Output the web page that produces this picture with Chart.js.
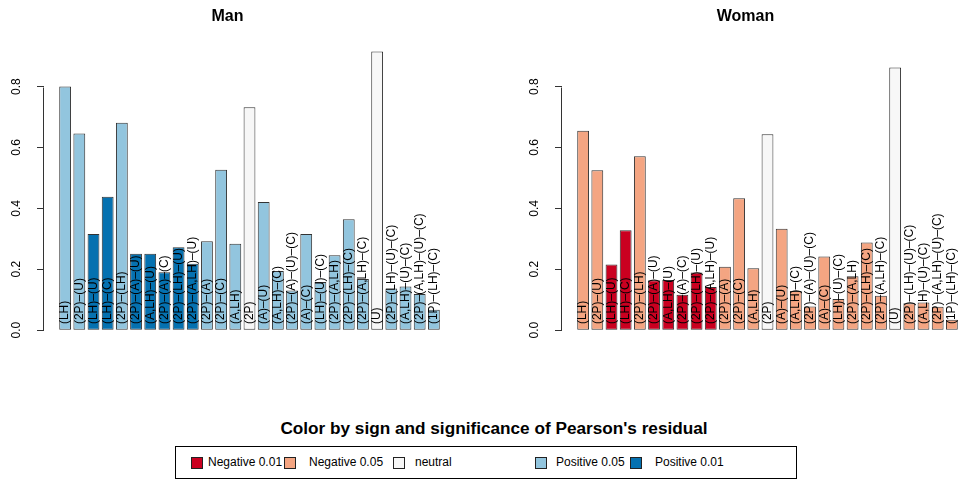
<!DOCTYPE html>
<html><head><meta charset="utf-8">
<script src="https://cdn.jsdelivr.net/npm/chart.js@4/dist/chart.umd.min.js"></script>
<style>
html,body{margin:0;padding:0;background:#fff;width:963px;height:482px;overflow:hidden;position:relative;font-family:"Liberation Sans",Arial,sans-serif;}
.panel{position:absolute;top:0;width:499px;height:360px;}
#legendTitle{position:absolute;left:0;width:988px;top:418px;text-align:center;font-weight:bold;font-size:17.2px;color:#000;}
#legendBox{position:absolute;left:175px;top:446px;width:620px;height:31px;border:1px solid #000;}
.sw{position:absolute;width:10px;height:10px;border:1px solid #222;top:10px;}
.lt{position:absolute;top:0;height:31px;line-height:31px;font-size:12px;color:#000;white-space:nowrap;}
</style></head>
<body>
<div class="panel" style="left:0"><canvas id="man"></canvas></div>
<div class="panel" style="left:518px"><canvas id="woman"></canvas></div>
<div id="legendTitle">Color by sign and significance of Pearson's residual</div>
<div id="legendBox"></div>
<script>
const categories = ["(LH)","(2P)–(U)","(LH)–(U)","(LH)–(C)","(2P)–(LH)","(2P)–(A)–(U)","(A,LH)–(U)","(2P)–(A)–(C)","(2P)–(LH)–(U)","(2P)–(A,LH)–(U)","(2P)–(A)","(2P)–(C)","(A,LH)","(2P)","(A)–(U)","(A,LH)–(C)","(2P)–(A)–(U)–(C)","(A)–(C)","(LH)–(U)–(C)","(2P)–(A,LH)","(2P)–(LH)–(C)","(2P)–(A,LH)–(C)","(U)","(2P)–(LH)–(U)–(C)","(A,LH)–(U)–(C)","(2P)–(A,LH)–(U)–(C)","(1P)–(LH)–(C)"];
const manValues = [0.800,0.646,0.316,0.438,0.681,0.251,0.251,0.190,0.272,0.218,0.292,0.527,0.284,0.732,0.421,0.194,0.130,0.316,0.158,0.246,0.364,0.168,0.915,0.137,0.143,0.119,0.067];
const womanValues = [0.655,0.525,0.216,0.328,0.571,0.164,0.165,0.116,0.189,0.142,0.208,0.433,0.203,0.643,0.333,0.129,0.078,0.242,0.102,0.177,0.288,0.113,0.863,0.088,0.091,0.077,0.034];
const manSig = ["p05","p05","p01","p01","p05","p01","p01","p01","p01","p01","p05","p05","p05","neu","p05","p05","p05","p05","p05","p05","p05","p05","neu","p05","p05","p05","p05"];
const womanSig = ["n05","n05","n01","n01","n05","n01","n01","n01","n01","n01","n05","n05","n05","neu","n05","n05","n05","n05","n05","n05","n05","n05","neu","n05","n05","n05","n05"];
const sigCodes = ["n01","n05","neu","p05","p01"];
const legendLabels = ["Negative 0.01","Negative 0.05","neutral","Positive 0.05","Positive 0.01"];
const sigColors = {n01:"#CA0020", n05:"#F4A582", neu:"#F7F7F7", p05:"#92C5DE", p01:"#0571B0"};
const yTicks = [0, 0.2, 0.4, 0.6, 0.8];
const titles = ["Man", "Woman"];

const FONT = '"Liberation Sans", Arial, Helvetica, sans-serif';
const yMaxData = Math.max(...manValues, ...womanValues);
const labelBase = 0.02;

const overlayPlugin = {
  id: 'overlay',
  afterDatasetsDraw(chart) {
    const ctx = chart.ctx, meta = chart.getDatasetMeta(0), ys = chart.scales.y;
    const y0 = ys.getPixelForValue(labelBase);
    ctx.save();
    ctx.font = '12px ' + FONT;
    ctx.fillStyle = '#000';
    ctx.textAlign = 'left';
    ctx.textBaseline = 'middle';
    meta.data.forEach((bar, i) => {
      ctx.save();
      ctx.translate(bar.x, y0);
      ctx.rotate(-Math.PI / 2);
      ctx.fillText(categories[i], 0, 0);
      ctx.restore();
    });
    const xa = Math.round(ys.right) - 0.5;
    ctx.strokeStyle = '#333';
    ctx.lineWidth = 1;
    ctx.beginPath();
    ctx.moveTo(xa, Math.round(ys.getPixelForValue(yTicks[0])) + 0.5);
    ctx.lineTo(xa, Math.round(ys.getPixelForValue(yTicks[yTicks.length - 1])) + 0.5);
    ctx.stroke();
    ctx.restore();
  }
};

function makeChart(id, title, values, sig) {
  return new Chart(document.getElementById(id), {
    type: 'bar',
    data: {
      labels: categories,
      datasets: [{
        data: values.map((v, i) => ({x: i + 1, y: v})),
        backgroundColor: sig.map(s => sigColors[s]),
        borderColor: '#333',
        borderWidth: 1,
        borderSkipped: false,
        barPercentage: 1 / 1.2,
        categoryPercentage: 1
      }]
    },
    options: {
      responsive: true,
      maintainAspectRatio: false,
      animation: false,
      layout: {padding: {left: 0, right: 44, top: 0, bottom: 15.7}},
      plugins: {
        legend: {display: false},
        tooltip: {enabled: false},
        title: {display: true, text: title, color: '#000',
          font: {family: FONT, size: 16, weight: 'bold'},
          padding: {top: 7, bottom: 14.2}}
      },
      scales: {
        x: {type: 'linear', display: false, offset: false, grid: {offset: false},
            min: -0.49, max: categories.length + 1.49,
            ticks: {stepSize: 1, includeBounds: false}},
        y: {
          min: -0.04 * yMaxData, max: 1.04 * yMaxData,
          afterBuildTicks: s => { s.ticks = yTicks.map(v => ({value: v})); },
          afterFit: s => { s.width = 44; },
          border: {display: false},
          grid: {drawOnChartArea: false, drawTicks: true, tickLength: 7, color: '#333'},
          ticks: {minRotation: 90, maxRotation: 90, crossAlign: 'center', padding: 11.5,
            color: '#000', font: {family: FONT, size: 12},
            callback: v => Number(v).toFixed(1)}
        }
      }
    },
    plugins: [overlayPlugin]
  });
}
makeChart('man', titles[0], manValues, manSig);
makeChart('woman', titles[1], womanValues, womanSig);

const sqCenters = [197, 290, 399, 541, 636];
const textStarts = [208, 309, 415, 556, 655];
const box = document.getElementById('legendBox');
legendLabels.forEach((lab, i) => {
  const sq = document.createElement('div');
  sq.className = 'sw';
  sq.style.left = (sqCenters[i] - 176 - 6) + 'px';
  sq.style.background = sigColors[sigCodes[i]];
  box.appendChild(sq);
  const t = document.createElement('div');
  t.className = 'lt';
  t.style.left = (textStarts[i] - 176) + 'px';
  t.textContent = lab;
  box.appendChild(t);
});
</script>
</body></html>
